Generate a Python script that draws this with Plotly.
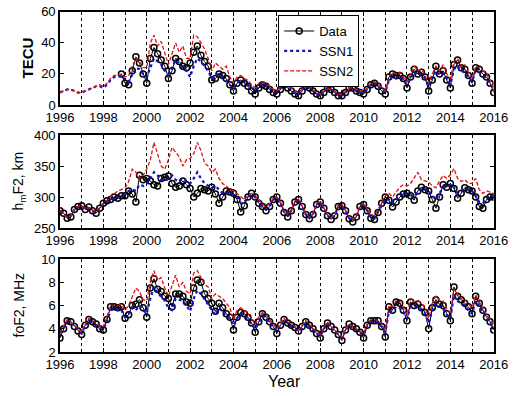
import plotly.graph_objects as go

# time axis: bi-monthly samples 1996.0 .. 2016.0
n_pts = 121
years = [1996 + k / 6 for k in range(n_pts)]
x_ticks = [1996, 1998, 2000, 2002, 2004, 2006, 2008, 2010, 2012, 2014, 2016]

# ---------------- TEC (TECU) ----------------
tec_data = [
    None, None, None, None, None, None,   # 1996
    None, None, None, None, None, None,   # 1997
    None, None, None, None, None, 20,     # 1998
    14, 13, 22, 31, 27, 20,               # 1999
    14, 30, 37, 33, 29, 25,               # 2000
    17, 22, 30, 28, 25, 24,               # 2001
    27, 34, 38, 32, 28, 25,               # 2002
    16, 17, 20, 19, 17, 13,               # 2003
    9, 14, 16, 14, 12, 9,                 # 2004
    7, 11, 13, 12, 10, 8,                 # 2005
    7, 10, 13, 11, 9, 7,                  # 2006
    6, 9, 12, 11, 9, 7,                   # 2007
    6, 8, 11, 10, 8, 6,                   # 2008
    6, 8, 11, 11, 9, 8,                   # 2009
    7, 10, 13, 14, 12, 9,                 # 2010
    7, 18, 20, 19, 19, 17,                # 2011
    11, 18, 23, 20, 21, 18,               # 2012
    9, 16, 25, 20, 22, 16,                # 2013
    11, 26, 29, 24, 23, 19,               # 2014
    14, 24, 23, 20, 18, 14,               # 2015
    8,                                    # 2016
]
tec_ssn1 = [
    8, 9, 10, 10, 9, 8,
    8, 9, 10, 11, 12, 12,
    11, 13, 16, 18, 18, 19,
    16, 15, 20, 24, 23, 20,
    18, 24, 30, 28, 26, 22,
    20, 24, 29, 26, 24, 22,
    18, 25, 30, 28, 25, 22,
    17, 19, 20, 18, 16, 13,
    11, 14, 16, 15, 13, 11,
    9, 12, 14, 13, 11, 9,
    8, 11, 13, 12, 10, 8,
    7, 10, 12, 11, 9, 7,
    6, 9, 11, 10, 8, 6,
    6, 8, 11, 11, 9, 8,
    8, 10, 13, 14, 12, 10,
    8, 16, 18, 17, 18, 16,
    13, 17, 21, 19, 20, 17,
    12, 17, 22, 19, 20, 17,
    13, 23, 25, 22, 21, 18,
    15, 22, 21, 19, 17, 14,
    10,
]
tec_ssn2 = [
    8, 9, 10, 10, 9, 8,
    8, 9, 10, 11, 12, 13,
    12, 14, 17, 19, 19, 20,
    18, 19, 25, 30, 28, 24,
    24, 40, 45, 38, 41, 33,
    26, 33, 40, 34, 38, 30,
    30, 45, 44, 40, 36, 30,
    22, 27, 25, 23, 25, 18,
    14, 18, 19, 17, 16, 13,
    11, 14, 15, 14, 12, 10,
    9, 12, 14, 13, 11, 9,
    8, 10, 13, 12, 10, 8,
    7, 9, 11, 10, 9, 7,
    7, 9, 11, 11, 10, 9,
    9, 11, 14, 15, 13, 11,
    9, 18, 21, 20, 21, 18,
    15, 20, 25, 22, 23, 19,
    14, 20, 25, 22, 26, 20,
    17, 28, 30, 25, 26, 21,
    17, 25, 24, 22, 20, 16,
    11,
]

# ---------------- hmF2 (km) ----------------
hmf2_data = [
    278, 274, 266, 268, 280, 285,
    286, 280, 284, 278, 274, 282,
    290, 294, 296, 300, 298, 302,
    302, 310, 305, 292, 335, 328,
    330, 326, 320, 318, 330, 332,
    334, 322, 316, 318, 326, 320,
    314, 300, 306, 314, 312, 310,
    316, 305, 290, 300, 310, 308,
    306, 296, 276, 286, 300, 306,
    300, 290, 285, 278, 285, 296,
    300, 290, 275, 268, 278, 292,
    296, 285, 272, 265, 272, 288,
    292, 282, 270, 264, 270, 285,
    286, 278, 265, 260, 268, 285,
    288, 278, 266, 264, 275, 290,
    300, 295, 284, 292, 300, 305,
    306, 302, 295, 310, 316, 312,
    310, 296, 282, 300, 320, 316,
    322, 314, 298, 306, 315, 312,
    310, 300, 285, 282, 296, 300,
    300,
]
hmf2_ssn1 = [
    278, 272, 267, 270, 280, 284,
    285, 280, 282, 278, 276, 282,
    288, 292, 295, 298, 300, 302,
    305, 310, 312, 310, 320, 318,
    322, 330, 340, 335, 328, 325,
    330, 335, 328, 325, 330, 326,
    322, 330, 340, 330, 322, 318,
    315, 318, 312, 306, 308, 305,
    304, 300, 290, 292, 300, 304,
    300, 292, 284, 280, 286, 296,
    298, 290, 276, 270, 278, 292,
    295, 284, 272, 266, 272, 288,
    291, 281, 270, 265, 270, 285,
    286, 277, 266, 262, 268, 284,
    287, 278, 268, 266, 276, 288,
    296, 296, 290, 296, 302, 306,
    306, 304, 300, 310, 314, 312,
    310, 302, 296, 306, 316, 316,
    320, 316, 306, 308, 314, 312,
    310, 302, 292, 290, 298, 302,
    302,
]
hmf2_ssn2 = [
    278, 273, 267, 270, 281, 285,
    286, 281, 283, 279, 277, 283,
    290, 295, 300, 305, 310, 312,
    315, 325, 345, 340, 330, 335,
    345, 360, 388, 370, 350, 345,
    360, 380, 372, 365, 350, 360,
    362, 370, 388, 375, 355, 350,
    340, 345, 330, 322, 318, 312,
    310, 305, 300, 296, 302, 306,
    302, 296, 288, 284, 290, 298,
    300, 292, 278, 272, 280, 294,
    297, 286, 274, 268, 274, 290,
    293, 283, 272, 267, 272, 287,
    288, 279, 268, 264, 270, 286,
    290, 281, 272, 270, 280, 292,
    302, 306, 300, 308, 316, 320,
    318, 322, 330, 340, 328, 326,
    324, 318, 315, 326, 335, 330,
    336, 346, 330, 325, 328, 322,
    322, 330, 312, 306, 310, 308,
    306,
]

# ---------------- foF2 (MHz) ----------------
fof2_data = [
    3.2, 4.0, 4.7, 4.6, 4.2, 3.8,
    3.5, 4.3, 4.8, 4.6, 4.4, 4.0,
    3.9, 4.8, 5.9, 5.9, 5.8, 5.9,
    4.9, 5.2, 6.0, 6.1, 6.5, 5.8,
    5.0, 7.5, 8.3, 7.4, 7.2, 6.8,
    6.6, 5.9, 7.0, 7.0, 6.8, 6.3,
    6.2, 7.5, 8.2, 8.0, 7.0, 6.6,
    6.2, 5.5, 6.2, 5.8, 5.3, 5.0,
    3.9, 5.0, 5.4, 5.3, 5.0, 4.5,
    3.7, 4.6, 5.3, 5.0, 4.6, 4.2,
    3.6, 4.3, 4.8, 4.5, 4.3, 4.1,
    3.8, 4.2, 4.6, 4.3, 4.0, 3.6,
    3.2, 4.0, 4.5, 4.2, 3.9, 3.5,
    3.0, 3.9, 4.4, 4.2, 4.0, 3.7,
    3.2, 4.3, 4.7, 4.7, 4.7, 4.2,
    3.3, 5.9, 5.6, 6.3, 6.2, 5.6,
    4.7, 6.3, 6.0, 6.1, 5.8, 5.4,
    4.0, 5.8, 6.5, 6.1, 6.0, 5.3,
    4.7, 7.6, 6.8, 6.5, 6.2, 5.9,
    5.3, 6.8, 6.2, 5.6, 5.0, 4.6,
    3.9,
]
fof2_ssn1 = [
    3.6, 4.1, 4.6, 4.5, 4.2, 3.9,
    3.6, 4.3, 4.7, 4.5, 4.3, 4.0,
    4.0, 4.6, 5.6, 5.7, 5.6, 5.6,
    5.0, 5.3, 5.8, 5.6, 6.0, 5.6,
    5.3, 6.6, 7.6, 7.0, 6.8, 6.4,
    5.8, 5.6, 6.6, 6.5, 6.4, 6.0,
    5.5, 6.6, 7.3, 7.0, 6.5, 6.0,
    5.6, 5.2, 5.8, 5.5, 5.1, 4.9,
    4.3, 4.9, 5.3, 5.1, 4.8, 4.4,
    4.0, 4.5, 5.1, 4.9, 4.5, 4.2,
    3.8, 4.3, 4.7, 4.5, 4.2, 4.0,
    3.8, 4.1, 4.5, 4.2, 3.9, 3.6,
    3.4, 4.0, 4.4, 4.1, 3.8, 3.5,
    3.2, 3.9, 4.3, 4.1, 3.9, 3.7,
    3.5, 4.3, 4.6, 4.6, 4.5, 4.2,
    3.7, 5.5, 5.5, 5.9, 5.8, 5.4,
    4.9, 5.9, 5.8, 5.9, 5.6, 5.3,
    4.5, 5.6, 6.2, 5.9, 5.7, 5.2,
    4.9, 6.9, 6.4, 6.2, 6.0, 5.6,
    5.3, 6.4, 5.9, 5.4, 4.9, 4.5,
    4.0,
]
fof2_ssn2 = [
    3.7, 4.2, 4.8, 4.6, 4.3, 4.0,
    3.7, 4.4, 4.9, 4.7, 4.5, 4.2,
    4.2, 5.0, 6.0, 6.0, 6.0, 6.1,
    5.6, 6.0, 6.8, 7.5, 7.2, 6.5,
    6.4, 8.0, 9.0, 8.2, 8.4, 7.5,
    6.8, 7.8, 8.6, 7.6, 8.0, 7.2,
    7.0, 8.8, 9.0, 8.4, 7.8, 7.6,
    6.6, 7.0, 6.8, 6.6, 6.2, 5.8,
    4.8, 5.6, 5.8, 5.6, 5.3, 4.9,
    4.4, 5.0, 5.4, 5.2, 4.8, 4.4,
    4.0, 4.5, 4.9, 4.7, 4.4, 4.2,
    3.9, 4.3, 4.7, 4.4, 4.1, 3.7,
    3.5, 4.1, 4.6, 4.2, 3.9, 3.6,
    3.3, 4.0, 4.4, 4.2, 4.0, 3.8,
    3.6, 4.4, 4.8, 4.8, 4.7, 4.4,
    3.9, 6.0, 5.9, 6.4, 6.3, 5.8,
    5.2, 6.6, 6.3, 6.5, 6.1, 5.8,
    4.9, 6.2, 6.8, 6.4, 6.4, 5.7,
    5.4, 7.4, 7.0, 6.6, 6.5, 6.1,
    5.8, 6.9, 6.3, 5.8, 5.2, 4.8,
    4.3,
]

panels = [
    (tec_data, tec_ssn1, tec_ssn2, [0, 60], [0, 20, 40, 60]),
    (hmf2_data, hmf2_ssn1, hmf2_ssn2, [250, 400], [250, 300, 350, 400]),
    (fof2_data, fof2_ssn1, fof2_ssn2, [2, 10], [2, 4, 6, 8, 10]),
]
y_domains = [[0.735, 0.970], [0.424, 0.659], [0.111, 0.346]]

FONT = "Arial, Liberation Sans, Helvetica, sans-serif"
fig = go.Figure()
layout = {}
for i, (d, s1, s2, yr, yt) in enumerate(panels):
    n = i + 1
    xa = "x" if n == 1 else f"x{n}"
    ya = "y" if n == 1 else f"y{n}"
    first = (i == 0)
    fig.add_trace(go.Scatter(
        x=years, y=d, xaxis=xa, yaxis=ya, name="Data", mode="lines+markers",
        line=dict(color="black", width=1),
        marker=dict(symbol="circle-open", size=6, color="black", line=dict(width=1.5)),
        showlegend=first, connectgaps=False))
    fig.add_trace(go.Scatter(
        x=years, y=s1, xaxis=xa, yaxis=ya, name="SSN1", mode="lines",
        line=dict(color="#1010d0", width=2.2, dash="dot"), showlegend=first))
    fig.add_trace(go.Scatter(
        x=years, y=s2, xaxis=xa, yaxis=ya, name="SSN2", mode="lines",
        line=dict(color="#e01010", width=1.3, dash="4px,2px"), showlegend=first))

    xkey = "xaxis" if n == 1 else f"xaxis{n}"
    ykey = "yaxis" if n == 1 else f"yaxis{n}"
    layout[xkey] = dict(
        domain=[0.116, 0.955], anchor=ya, range=[1996, 2016], automargin=False,
        tickmode="array", tickvals=x_ticks, ticktext=[str(v) for v in x_ticks],
        ticks="inside", ticklen=4, tickcolor="black", mirror="ticks",
        showline=True, linecolor="black", linewidth=1.5,
        showgrid=True, gridcolor="black", griddash="dot", gridwidth=1,
        minor=dict(tickmode="array", tickvals=list(range(1997, 2016, 2)),
                   showgrid=True, gridcolor="black", griddash="dot", gridwidth=1, ticks=""),
        zeroline=False, tickfont=dict(size=13, color="black", family=FONT))
    layout[ykey] = dict(
        domain=y_domains[i], anchor=xa, range=yr, automargin=False,
        tickmode="array", tickvals=yt, ticktext=[str(v) for v in yt],
        ticks="inside", ticklen=4, tickcolor="black", mirror="ticks",
        showline=True, linecolor="black", linewidth=1.5,
        showgrid=False, zeroline=False,
        tickfont=dict(size=13, color="black", family=FONT))

ann_common = dict(xref="paper", yref="paper", showarrow=False,
                  xanchor="center", yanchor="middle")
fig.update_layout(**layout)
fig.update_layout(
    template="none",
    width=517, height=396, margin=dict(l=0, r=0, t=0, b=0, autoexpand=False),
    paper_bgcolor="white", plot_bgcolor="white",
    font=dict(family=FONT, color="black"),
    legend=dict(x=0.538, y=0.962, xanchor="left", yanchor="top",
                bgcolor="white", bordercolor="black", borderwidth=1,
                font=dict(size=13, family=FONT), tracegroupgap=0,
                itemwidth=30),
    annotations=[
        dict(text="<b>TECU</b>", x=27 / 517, y=(0.735 + 0.970) / 2, textangle=-90,
             font=dict(size=15, family=FONT), **ann_common),
        dict(text="h<sub>m</sub>F2, km", x=19 / 517, y=(0.424 + 0.659) / 2, textangle=-90,
             font=dict(size=14, family=FONT), **ann_common),
        dict(text="foF2, MHz", x=19 / 517, y=(0.111 + 0.346) / 2, textangle=-90,
             font=dict(size=14, family=FONT), **ann_common),
        dict(text="Year", x=284 / 517, y=1 - 381 / 396,
             font=dict(size=16, family=FONT), **ann_common),
    ],
)
fig.write_html("out.html", config={"displayModeBar": False},
               post_script="document.body.style.margin='0';document.body.style.padding='0';")
